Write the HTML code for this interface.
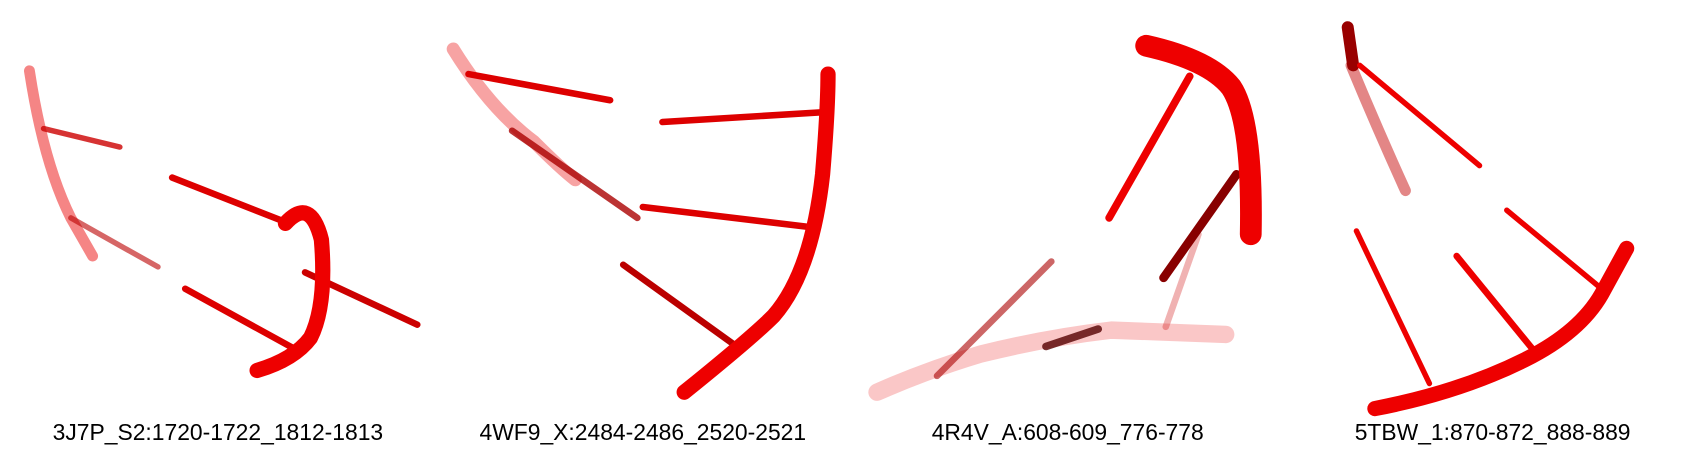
<!DOCTYPE html>
<html><head><meta charset="utf-8"><style>
html,body{margin:0;padding:0;background:#fff;width:1700px;height:460px;overflow:hidden}
text{font-family:"Liberation Sans",Arial,sans-serif;font-size:21px;fill:#000}
</style></head><body>
<svg width="1700" height="460" viewBox="0 0 1700 460">
<g transform="scale(1.0895)" fill="none" stroke-linecap="round" stroke-linejoin="round">
 <g>
  <path d="M27,65 Q40,150 65,200 L85,235" stroke="#e33" stroke-width="10" opacity="0.6"/>
  <path d="M40,118 L110,135" stroke="#c00" stroke-width="5" opacity="0.8"/>
  <path d="M65,200 L145,245" stroke="#b00" stroke-width="5" opacity="0.6"/>
  <path d="M158,163 L265,205" stroke="#d00" stroke-width="6"/>
  <path d="M170,265 L270,320" stroke="#d00" stroke-width="6"/>
  <path d="M280,250 L383,298" stroke="#c00" stroke-width="6"/>
  <path d="M236,340 Q270,330 285,310 Q300,280 295,220 Q285,180 262,205" stroke="#e00" stroke-width="14"/>
  <text x="200" y="404" text-anchor="middle">3J7P_S2:1720-1722_1812-1813</text>
 </g>
 <g>
  <path d="M416,45 Q450,100 490,130 Q515,155 528,165" stroke="#e33" stroke-width="12" opacity="0.45"/>
  <path d="M430,68 L560,92" stroke="#d00" stroke-width="6"/>
  <path d="M470,120 L585,200" stroke="#a00" stroke-width="6" opacity="0.8"/>
  <path d="M608,112 L755,103" stroke="#d00" stroke-width="6"/>
  <path d="M590,190 L740,208" stroke="#d00" stroke-width="6"/>
  <path d="M572,243 L672,315" stroke="#b00" stroke-width="6"/>
  <path d="M628,360 Q690,310 710,290 Q745,250 755,160 Q760,100 760,68" stroke="#e00" stroke-width="14"/>
  <text x="590" y="404" text-anchor="middle">4WF9_X:2484-2486_2520-2521</text>
 </g>
 <g>
  <path d="M805,360 Q850,340 900,325 Q960,310 1020,303 L1125,307" stroke="#e44" stroke-width="16" opacity="0.3"/>
  <path d="M860,345 L965,240" stroke="#a00" stroke-width="6" opacity="0.6"/>
  <path d="M1070,300 L1100,215" stroke="#c00" stroke-width="6" opacity="0.3"/>
  <path d="M960,318 L1008,302" stroke="#500" stroke-width="7" opacity="0.8"/>
  <path d="M1018,200 L1092,70" stroke="#e00" stroke-width="7"/>
  <path d="M1068,255 L1135,160" stroke="#800" stroke-width="8"/>
  <path d="M1052,42 Q1110,55 1130,80 Q1150,110 1148,215" stroke="#e00" stroke-width="20"/>
  <text x="980" y="404" text-anchor="middle">4R4V_A:608-609_776-778</text>
 </g>
 <g>
  <path d="M1240,60 Q1265,120 1290,175" stroke="#c22" stroke-width="10" opacity="0.55"/>
  <path d="M1237,25 L1242,60" stroke="#900" stroke-width="11"/>
  <path d="M1248,60 L1358,152" stroke="#e00" stroke-width="5"/>
  <path d="M1245,212 L1312,352" stroke="#e00" stroke-width="5"/>
  <path d="M1337,235 L1408,322" stroke="#e00" stroke-width="6"/>
  <path d="M1383,193 L1470,265" stroke="#e00" stroke-width="5"/>
  <path d="M1262,375 Q1340,360 1400,330 Q1450,305 1470,270 L1493,228" stroke="#e00" stroke-width="14"/>
  <text x="1370" y="404" text-anchor="middle">5TBW_1:870-872_888-889</text>
 </g>
</g>
</svg>
</body></html>
